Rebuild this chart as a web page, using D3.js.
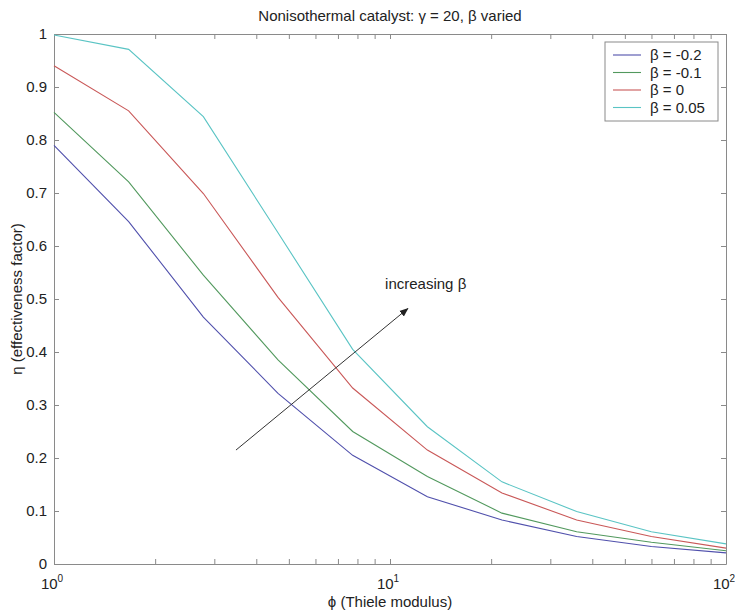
<!DOCTYPE html>
<html>
<head>
<meta charset="utf-8">
<script src="https://cdn.jsdelivr.net/npm/d3@7"></script>
<style>
  body { margin: 0; background: #fff; }
  svg { font-family: "Liberation Sans", Arial, sans-serif; }
  .frame text { fill: #222; }
</style>
</head>
<body>
<div id="chart"></div>
<script>

// declare constants

const FRAME_HEIGHT = 613;
const FRAME_WIDTH = 735;
const MARGINS = {left: 54, right: 9, top: 34, bottom: 49};

const VIS_HEIGHT = FRAME_HEIGHT - MARGINS.top - MARGINS.bottom;
const VIS_WIDTH = FRAME_WIDTH - MARGINS.left - MARGINS.right;

// data

const PHI = [1, 1.668, 2.783, 4.642, 7.743, 12.92, 21.54, 35.94, 59.95, 100];
const BETAS = ["-0.2", "-0.1", "0", "0.05"];
const ETA_M02 = [0.790, 0.646, 0.466, 0.322, 0.205, 0.127, 0.083, 0.052, 0.033, 0.021];
const ETA_M01 = [0.852, 0.721, 0.545, 0.385, 0.250, 0.165, 0.096, 0.061, 0.041, 0.025];
const ETA_0 = [0.940, 0.855, 0.699, 0.503, 0.332, 0.215, 0.134, 0.083, 0.052, 0.030];
const ETA_005 = [0.998, 0.971, 0.844, 0.625, 0.405, 0.259, 0.155, 0.099, 0.061, 0.038];
const COLORS = ["#5050ac", "#52995e", "#c95858", "#5ac4c4"];

const Y_TICKS = [0, 0.1, 0.2, 0.3, 0.4, 0.5, 0.6, 0.7, 0.8, 0.9, 1];
const X_MAJOR = [1, 10, 100];
const X_EXP = ["0", "1", "2"];

// arrow annotation (phi, eta)
const ARROW_FROM = [3.48, 0.215];
const ARROW_TO = [11.3, 0.482];

const FRAME = d3.select("#chart")
                  .append("svg")
                    .attr("height", FRAME_HEIGHT)
                    .attr("width", FRAME_WIDTH)
                    .attr("class", "frame");

function build_plot() {

  const X_SCALE = d3.scaleLog()
            .domain([1, 100])
            .range([0, VIS_WIDTH]);

  const Y_SCALE = d3.scaleLinear()
            .domain([0, 1])
            .range([VIS_HEIGHT, 0]);

  const G = FRAME.append("g")
        .attr("transform", "translate(" + MARGINS.left + "," + MARGINS.top + ")");

  // all log ticks 1..100
  const xTicks = [];
  [1, 10].forEach((dec) => {
    for (let k = 1; k < 10; k++) xTicks.push(dec * k);
  });
  xTicks.push(100);

  const axisColor = "#8a8a8a";

  // bottom axis
  G.append("g")
      .attr("transform", "translate(0," + VIS_HEIGHT + ")")
      .call(d3.axisBottom(X_SCALE).tickValues(xTicks).tickSize(-5).tickSizeOuter(0).tickFormat(""));
  // top axis
  G.append("g")
      .call(d3.axisTop(X_SCALE).tickValues(xTicks).tickSize(-5).tickSizeOuter(0).tickFormat(""));
  // left axis
  G.append("g")
      .attr("class", "yaxis")
      .call(d3.axisLeft(Y_SCALE).tickValues(Y_TICKS).tickSize(-5).tickSizeOuter(0).tickPadding(7)
            .tickFormat(d3.format("~g")))
      .attr("font-size", "15px")
      .attr("font-family", null);
  // right axis
  G.append("g")
      .attr("transform", "translate(" + VIS_WIDTH + ",0)")
      .call(d3.axisRight(Y_SCALE).tickValues(Y_TICKS).tickSize(-5).tickSizeOuter(0).tickFormat(""));

  G.selectAll(".domain, .tick line").attr("stroke", axisColor);
  G.selectAll(".yaxis text").attr("fill", "#222");

  // x tick labels with superscripts
  const xl = G.selectAll(".xlab")
      .data(X_MAJOR)
      .enter()
      .append("text")
        .attr("class", "xlab")
        .attr("x", (d) => X_SCALE(d) - 2)
        .attr("y", VIS_HEIGHT + 25)
        .attr("text-anchor", "middle")
        .attr("font-size", "15px");
  xl.append("tspan").text("10");
  xl.append("tspan")
      .attr("dy", -7)
      .attr("font-size", "10px")
      .text((d, i) => X_EXP[i]);

  // lines
  const SERIES = [ETA_M02, ETA_M01, ETA_0, ETA_005];
  const line = d3.line()
      .x((d, i) => X_SCALE(PHI[i]))
      .y((d) => Y_SCALE(d));

  G.selectAll(".curve")
      .data(SERIES)
      .enter()
      .append("path")
        .attr("class", "curve")
        .attr("d", (d) => line(d))
        .attr("fill", "none")
        .attr("stroke", (d, i) => COLORS[i])
        .attr("stroke-width", 1.1);

  // arrow
  FRAME.append("defs").append("marker")
      .attr("id", "head")
      .attr("viewBox", "0 0 10 10")
      .attr("refX", 9).attr("refY", 5)
      .attr("markerWidth", 9).attr("markerHeight", 9)
      .attr("markerUnits", "userSpaceOnUse")
      .attr("orient", "auto")
    .append("path")
      .attr("d", "M0,1 L10,5 L0,9 Z")
      .attr("fill", "#222");

  G.append("line")
      .attr("x1", X_SCALE(ARROW_FROM[0])).attr("y1", Y_SCALE(ARROW_FROM[1]))
      .attr("x2", X_SCALE(ARROW_TO[0])).attr("y2", Y_SCALE(ARROW_TO[1]))
      .attr("stroke", "#333")
      .attr("stroke-width", 1)
      .attr("marker-end", "url(#head)");

  G.append("text")
      .attr("x", X_SCALE(9.67))
      .attr("y", Y_SCALE(0.519))
      .attr("font-size", "15px")
      .text("increasing β");

  // legend
  const LEG = G.append("g")
      .attr("transform", "translate(" + (VIS_WIDTH - 121) + ",8)");
  LEG.append("rect")
      .attr("width", 113).attr("height", 79)
      .attr("fill", "#fff")
      .attr("stroke", axisColor);
  const rows = LEG.selectAll(".row")
      .data(BETAS)
      .enter()
      .append("g")
        .attr("transform", (d, i) => "translate(0," + (13 + i * 17.5) + ")");
  rows.append("line")
      .attr("x1", 8).attr("x2", 36)
      .attr("stroke", (d, i) => COLORS[i])
      .attr("stroke-width", 1.1);
  rows.append("text")
      .attr("x", 45)
      .attr("y", 5)
      .attr("font-size", "15px")
      .text((d) => "β = " + d);

  // title and axis labels
  FRAME.append("text")
      .attr("x", MARGINS.left + VIS_WIDTH / 2)
      .attr("y", 21)
      .attr("text-anchor", "middle")
      .attr("font-size", "15px")
      .text("Nonisothermal catalyst: γ = 20, β varied");

  FRAME.append("text")
      .attr("x", MARGINS.left + VIS_WIDTH / 2)
      .attr("y", 607)
      .attr("text-anchor", "middle")
      .attr("font-size", "15px")
      .text("ϕ (Thiele modulus)");

  FRAME.append("text")
      .attr("transform", "translate(22," + (MARGINS.top + VIS_HEIGHT / 2) + ") rotate(-90)")
      .attr("text-anchor", "middle")
      .attr("font-size", "15px")
      .text("η (effectiveness factor)");
}

build_plot();
</script>
</body>
</html>
